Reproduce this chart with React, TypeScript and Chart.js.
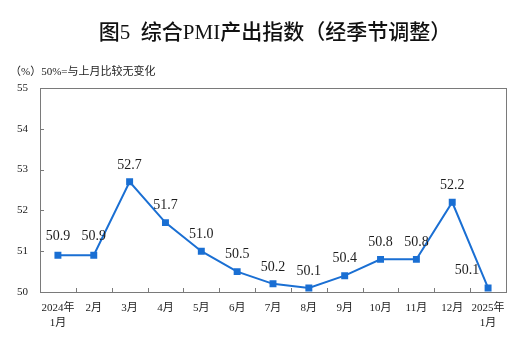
import React, { useEffect, useRef } from "react";
import { Chart, registerables } from "chart.js";

Chart.register(...registerables);

const categories: (string | string[])[] = [
  ["2024年", "1月"], "2月", "3月", "4月", "5月", "6月", "7月", "8月", "9月", "10月", "11月", "12月", ["2025年", "1月"],
];
const pmiValues: number[] = [50.9, 50.9, 52.7, 51.7, 51.0, 50.5, 50.2, 50.1, 50.4, 50.8, 50.8, 52.2, 50.1];
const yMin = 50;
const yMax = 55;
const yStep = 1;
const titleText = "图5  综合PMI产出指数（经季节调整）";
const subtitleText = "（%）50%=与上月比较无变化";

// label offsets (style only)
const labelShift: [number, number][] = pmiValues.map((_, i) =>
  i === pmiValues.length - 1 ? [-21, -1] : i < 2 ? [0, -2] : [0, 0]
);

const SERIF = "'Liberation Serif', 'Times New Roman', 'Noto Sans CJK SC', serif";
const LINE = "#1a6fd3";
const AXIS = "#7a7a7a";

export default function App() {
  const ref = useRef<HTMLCanvasElement | null>(null);

  useEffect(() => {
    if (!ref.current) return;

    const decor = {
      id: "decor",
      beforeDatasetsDraw(chart: any) {
        const { ctx, chartArea, scales } = chart;
        const { left, right, top, bottom } = chartArea;
        ctx.save();
        ctx.strokeStyle = AXIS;
        ctx.lineWidth = 1;
        ctx.strokeRect(Math.round(left) + 0.5, Math.round(top) + 0.5, Math.round(right - left), Math.round(bottom - top));
        const xs = scales.x;
        ctx.beginPath();
        for (let i = 0; i < categories.length - 1; i++) {
          const px = Math.round((xs.getPixelForValue(i) + xs.getPixelForValue(i + 1)) / 2) + 0.5;
          ctx.moveTo(px, Math.round(bottom));
          ctx.lineTo(px, Math.round(bottom) - 4);
        }
        const ys = scales.y;
        ys.ticks.forEach((t: any) => {
          const py = Math.round(ys.getPixelForValue(t.value)) + 0.5;
          ctx.moveTo(Math.round(left), py);
          ctx.lineTo(Math.round(left) + 4, py);
        });
        ctx.stroke();
        ctx.restore();
      },
      afterDatasetsDraw(chart: any) {
        const { ctx } = chart;
        const meta = chart.getDatasetMeta(0);
        ctx.save();
        ctx.font = `14px ${SERIF}`;
        ctx.fillStyle = "#1e1e1e";
        ctx.textAlign = "center";
        ctx.textBaseline = "middle";
        meta.data.forEach((p: any, i: number) => {
          const [dx, dy] = labelShift[i];
          ctx.fillText(pmiValues[i].toFixed(1), p.x + dx, p.y - 17 + dy);
        });
        ctx.restore();
      },
      afterDraw(chart: any) {
        const { ctx } = chart;
        ctx.save();
        ctx.fillStyle = "#111";
        ctx.textBaseline = "middle";
        ctx.textAlign = "center";
        ctx.font = `500 21px ${SERIF}`;
        ctx.fillText(titleText, 275, 33);
        ctx.textAlign = "left";
        ctx.font = `11px ${SERIF}`;
        ctx.fillStyle = "#222";
        ctx.fillText(subtitleText, 10, 72);
        ctx.restore();
      },
    };

    const chart = new Chart(ref.current, {
      type: "line",
      data: {
        labels: categories,
        datasets: [
          {
            data: pmiValues,
            borderColor: LINE,
            backgroundColor: LINE,
            borderWidth: 2,
            pointStyle: "rect",
            pointRadius: 3.5,
            pointBackgroundColor: LINE,
            pointBorderColor: LINE,
            tension: 0,
          },
        ],
      },
      options: {
        responsive: false,
        animation: false,
        layout: { padding: { top: 88, right: 23, left: 0, bottom: 0 } },
        plugins: { legend: { display: false }, tooltip: { enabled: false }, title: { display: false } },
        scales: {
          x: {
            offset: true,
            grid: { display: false, drawTicks: false },
            border: { display: false },
            ticks: {
              autoSkip: false,
              maxRotation: 0,
              padding: 9,
              color: "#222",
              font: { family: SERIF, size: 11, lineHeight: 1.36 },
            },
            afterFit(s: any) {
              s.height = 67;
            },
          },
          y: {
            min: yMin,
            max: yMax,
            grid: { display: false, drawTicks: false },
            border: { display: false },
            ticks: {
              stepSize: yStep,
              padding: 12,
              color: "#222",
              font: { family: SERIF, size: 11 },
            },
            afterFit(s: any) {
              s.width = 40;
            },
          },
        },
      },
      plugins: [decor],
    } as any);

    return () => chart.destroy();
  }, []);

  return (
    <div style={{ position: "fixed", left: 0, top: 0, width: 529, height: 359, background: "#fff" }}>
      <canvas ref={ref} width={529} height={359} />
    </div>
  );
}
